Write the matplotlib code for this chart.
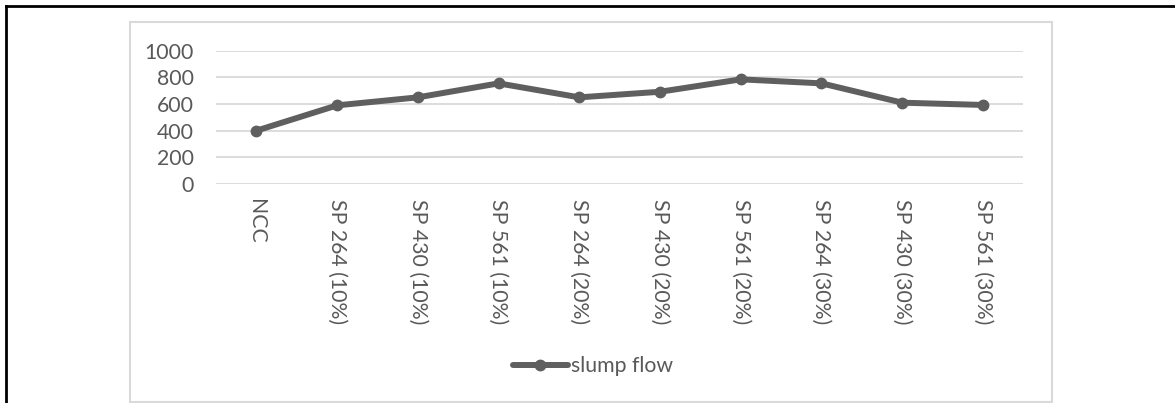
import matplotlib
matplotlib.use("Agg")
import matplotlib.pyplot as plt
from matplotlib.lines import Line2D
from matplotlib.patches import Rectangle

categories = ["NCC", "SP 264 (10%)", "SP 430 (10%)", "SP 561 (10%)",
              "SP 264 (20%)", "SP 430 (20%)", "SP 561 (20%)",
              "SP 264 (30%)", "SP 430 (30%)", "SP 561 (30%)"]
slump_flow = [400, 590, 650, 755, 650, 692, 785, 755, 610, 593]
y_ticks = [0, 200, 400, 600, 800, 1000]

W, H = 1175, 403
txt = "#595959"
fs = 15.3
plt.rcParams['font.family'] = ['Lato', 'DejaVu Sans']

fig = plt.figure(figsize=(W / 100, H / 100), dpi=100)
fig.patch.set_facecolor('white')

# chart frame (light gray) and the black page lines at left / top
fig.add_artist(Rectangle((130 / W, 1 - 402 / H), (1052 - 130) / W, (402 - 22) / H,
                         transform=fig.transFigure, fill=False,
                         edgecolor='#d9d9d9', lw=1.5))
fig.add_artist(Line2D([6 / W, 6 / W], [0, 1 - 6 / H], transform=fig.transFigure,
                      color='black', lw=2))
fig.add_artist(Line2D([6 / W, 1], [1 - 6 / H, 1 - 6 / H], transform=fig.transFigure,
                      color='black', lw=2))

ax = fig.add_axes([216 / W, 1 - 184 / H, (1023.3 - 216) / W, (184 - 50.7) / H])
x = range(len(categories))
ax.plot(x, slump_flow, color='#5f5f5f', lw=4.3, marker='o', markersize=7.5,
        label='slump flow', solid_capstyle='round')

ax.set_xlim(-0.5, len(categories) - 0.5)
ax.set_ylim(0, 1000)
ax.set_yticks(y_ticks)
ax.set_xticks(list(x))
ax.set_xticklabels(categories, rotation=-90, va='top', ha='center')
ax.yaxis.grid(True, color='#d9d9d9', lw=1.3)
ax.set_axisbelow(True)
for s in ax.spines.values():
    s.set_visible(False)
ax.tick_params(axis='y', length=0, pad=16, labelsize=fs, labelcolor=txt)
ax.tick_params(axis='x', length=0, pad=11, labelsize=fs, labelcolor=txt)

fig.legend(loc='center', bbox_to_anchor=(593 / W, 1 - 366 / H), frameon=False,
           fontsize=fs, labelcolor=txt, handlelength=2.6, handletextpad=0.15)

fig.savefig("out.png", dpi=100)
